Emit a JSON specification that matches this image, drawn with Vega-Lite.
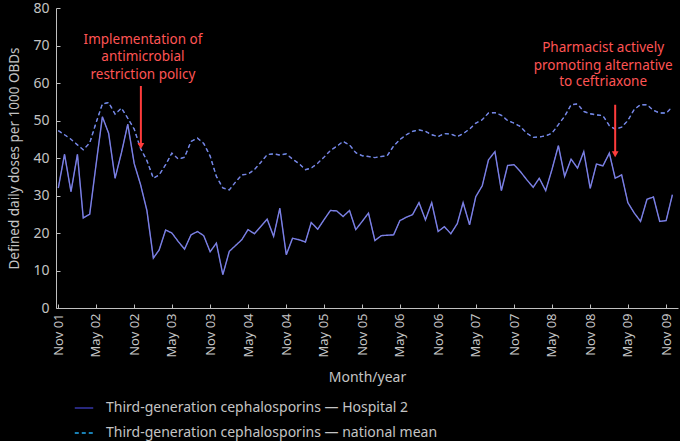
{
  "$schema": "https://vega.github.io/schema/vega-lite/v6.json",
  "width": 622,
  "height": 300,
  "autosize": {"type": "none"},
  "padding": {"left": 56, "top": 8, "right": 2, "bottom": 133},
  "background": "#000000",
  "config": {
    "view": {"stroke": null},
    "font": "Noto Sans",
    "axis": {"domainColor": "#c0c0c0", "tickColor": "#c0c0c0", "labelColor": "#c4c4c4", "titleColor": "#c4c4c4", "grid": false, "labelFont": "Noto Sans", "titleFont": "Noto Sans", "titleFontWeight": "normal", "labelOverlap": false}
  },
  "datasets": {
    "main": [
      {"month": "2001-11-01", "hospital2": 32, "national_mean": 47.3},
      {"month": "2001-12-01", "hospital2": 41, "national_mean": 46.2},
      {"month": "2002-01-01", "hospital2": 31, "national_mean": 45},
      {"month": "2002-02-01", "hospital2": 41, "national_mean": 43.5},
      {"month": "2002-03-01", "hospital2": 24, "national_mean": 42.2},
      {"month": "2002-04-01", "hospital2": 25, "national_mean": 44},
      {"month": "2002-05-01", "hospital2": 38, "national_mean": 49.3},
      {"month": "2002-06-01", "hospital2": 51, "national_mean": 54.4},
      {"month": "2002-07-01", "hospital2": 46.6, "national_mean": 54.8},
      {"month": "2002-08-01", "hospital2": 34.6, "national_mean": 51.7},
      {"month": "2002-09-01", "hospital2": 41.5, "national_mean": 53.3},
      {"month": "2002-10-01", "hospital2": 49, "national_mean": 50.6},
      {"month": "2002-11-01", "hospital2": 38.5, "national_mean": 47.7},
      {"month": "2002-12-01", "hospital2": 33, "national_mean": 42.6},
      {"month": "2003-01-01", "hospital2": 26, "national_mean": 39.3},
      {"month": "2003-02-01", "hospital2": 13.3, "national_mean": 34.6},
      {"month": "2003-03-01", "hospital2": 15.5, "national_mean": 35.5},
      {"month": "2003-04-01", "hospital2": 20.8, "national_mean": 38.2},
      {"month": "2003-05-01", "hospital2": 20, "national_mean": 41.3},
      {"month": "2003-06-01", "hospital2": 17.7, "national_mean": 39.7},
      {"month": "2003-07-01", "hospital2": 15.7, "national_mean": 40.2},
      {"month": "2003-08-01", "hospital2": 19.5, "national_mean": 44.4},
      {"month": "2003-09-01", "hospital2": 20.4, "national_mean": 45.3},
      {"month": "2003-10-01", "hospital2": 19.3, "national_mean": 43.9},
      {"month": "2003-11-01", "hospital2": 15, "national_mean": 40.5},
      {"month": "2003-12-01", "hospital2": 17.3, "national_mean": 35.1},
      {"month": "2004-01-01", "hospital2": 8.9, "national_mean": 32},
      {"month": "2004-02-01", "hospital2": 15.1, "national_mean": 31.5},
      {"month": "2004-03-01", "hospital2": 16.6, "national_mean": 33.5},
      {"month": "2004-04-01", "hospital2": 18.2, "national_mean": 35.5},
      {"month": "2004-05-01", "hospital2": 20.9, "national_mean": 35.7},
      {"month": "2004-06-01", "hospital2": 19.8, "national_mean": 36.9},
      {"month": "2004-07-01", "hospital2": 21.7, "national_mean": 38.8},
      {"month": "2004-08-01", "hospital2": 23.7, "national_mean": 40.9},
      {"month": "2004-09-01", "hospital2": 19.1, "national_mean": 41.1},
      {"month": "2004-10-01", "hospital2": 26.6, "national_mean": 40.8},
      {"month": "2004-11-01", "hospital2": 14.2, "national_mean": 41.1},
      {"month": "2004-12-01", "hospital2": 18.6, "national_mean": 39.7},
      {"month": "2005-01-01", "hospital2": 18.2, "national_mean": 38.5},
      {"month": "2005-02-01", "hospital2": 17.6, "national_mean": 36.9},
      {"month": "2005-03-01", "hospital2": 22.8, "national_mean": 37.3},
      {"month": "2005-04-01", "hospital2": 21, "national_mean": 38.6},
      {"month": "2005-05-01", "hospital2": 23.5, "national_mean": 40.2},
      {"month": "2005-06-01", "hospital2": 26, "national_mean": 42},
      {"month": "2005-07-01", "hospital2": 25.9, "national_mean": 43.1},
      {"month": "2005-08-01", "hospital2": 24.4, "national_mean": 44.4},
      {"month": "2005-09-01", "hospital2": 26, "national_mean": 43.5},
      {"month": "2005-10-01", "hospital2": 20.9, "national_mean": 41.4},
      {"month": "2005-11-01", "hospital2": 23.1, "national_mean": 40.6},
      {"month": "2005-12-01", "hospital2": 25.3, "national_mean": 40.4},
      {"month": "2006-01-01", "hospital2": 18, "national_mean": 40.1},
      {"month": "2006-02-01", "hospital2": 19.3, "national_mean": 40.4},
      {"month": "2006-03-01", "hospital2": 19.4, "national_mean": 40.6},
      {"month": "2006-04-01", "hospital2": 19.5, "national_mean": 43.2},
      {"month": "2006-05-01", "hospital2": 23.3, "national_mean": 44.9},
      {"month": "2006-06-01", "hospital2": 24.2, "national_mean": 46.2},
      {"month": "2006-07-01", "hospital2": 24.9, "national_mean": 47.1},
      {"month": "2006-08-01", "hospital2": 28.1, "national_mean": 47.5},
      {"month": "2006-09-01", "hospital2": 23.5, "national_mean": 47.1},
      {"month": "2006-10-01", "hospital2": 28.1, "national_mean": 46.2},
      {"month": "2006-11-01", "hospital2": 20.4, "national_mean": 45.7},
      {"month": "2006-12-01", "hospital2": 21.7, "national_mean": 46.5},
      {"month": "2007-01-01", "hospital2": 19.8, "national_mean": 46.4},
      {"month": "2007-02-01", "hospital2": 22.5, "national_mean": 45.7},
      {"month": "2007-03-01", "hospital2": 28.1, "national_mean": 46.5},
      {"month": "2007-04-01", "hospital2": 22.2, "national_mean": 47.7},
      {"month": "2007-05-01", "hospital2": 29.7, "national_mean": 49.3},
      {"month": "2007-06-01", "hospital2": 32.6, "national_mean": 50.2},
      {"month": "2007-07-01", "hospital2": 39.5, "national_mean": 52},
      {"month": "2007-08-01", "hospital2": 41.7, "national_mean": 52.1},
      {"month": "2007-09-01", "hospital2": 31.3, "national_mean": 51.4},
      {"month": "2007-10-01", "hospital2": 38, "national_mean": 50},
      {"month": "2007-11-01", "hospital2": 38.2, "national_mean": 49.3},
      {"month": "2007-12-01", "hospital2": 36.4, "national_mean": 48.4},
      {"month": "2008-01-01", "hospital2": 34.2, "national_mean": 46.6},
      {"month": "2008-02-01", "hospital2": 32.2, "national_mean": 45.5},
      {"month": "2008-03-01", "hospital2": 34.6, "national_mean": 45.6},
      {"month": "2008-04-01", "hospital2": 31.3, "national_mean": 45.9},
      {"month": "2008-05-01", "hospital2": 36.9, "national_mean": 46.6},
      {"month": "2008-06-01", "hospital2": 43.3, "national_mean": 48.9},
      {"month": "2008-07-01", "hospital2": 35.1, "national_mean": 51.1},
      {"month": "2008-08-01", "hospital2": 39.7, "national_mean": 54.2},
      {"month": "2008-09-01", "hospital2": 37.3, "national_mean": 54.4},
      {"month": "2008-10-01", "hospital2": 41.7, "national_mean": 52.4},
      {"month": "2008-11-01", "hospital2": 31.9, "national_mean": 51.8},
      {"month": "2008-12-01", "hospital2": 38.4, "national_mean": 51.5},
      {"month": "2009-01-01", "hospital2": 37.9, "national_mean": 51.3},
      {"month": "2009-02-01", "hospital2": 41.3, "national_mean": 48.6},
      {"month": "2009-03-01", "hospital2": 34.6, "national_mean": 47.7},
      {"month": "2009-04-01", "hospital2": 35.5, "national_mean": 48.2},
      {"month": "2009-05-01", "hospital2": 28.1, "national_mean": 50},
      {"month": "2009-06-01", "hospital2": 25.3, "national_mean": 53},
      {"month": "2009-07-01", "hospital2": 23.1, "national_mean": 54.2},
      {"month": "2009-08-01", "hospital2": 29, "national_mean": 54.2},
      {"month": "2009-09-01", "hospital2": 29.6, "national_mean": 52.7},
      {"month": "2009-10-01", "hospital2": 23.1, "national_mean": 52},
      {"month": "2009-11-01", "hospital2": 23.3, "national_mean": 52},
      {"month": "2009-12-01", "hospital2": 30.2, "national_mean": 53.6}
    ],
    "notes": [
      {"month": "2002-12-13", "value": 71.5, "text": "Implementation of"},
      {"month": "2002-12-13", "value": 66.9, "text": "antimicrobial"},
      {"month": "2002-12-13", "value": 62.2, "text": "restriction policy"},
      {"month": "2009-01-02", "value": 69.3, "text": "Pharmacist actively"},
      {"month": "2009-01-02", "value": 64.6, "text": "promoting  alternative"},
      {"month": "2009-01-02", "value": 60.2, "text": "to ceftriaxone"}
    ],
    "arrows": [
      {"month": "2002-12-03", "top": 59.2, "tip": 43.2},
      {"month": "2009-03-01", "top": 54.2, "tip": 41.0}
    ]
  },
  "encoding": {
    "x": {
      "field": "month",
      "type": "temporal",
      "scale": {"type": "utc", "domain": [{"year": 2001, "month": 10, "date": 21, "utc": true}, {"year": 2009, "month": 12, "date": 28, "utc": true}]},
      "axis": {
        "title": "Month/year",
        "titleFontSize": 14,
        "titlePadding": 14,
        "format": "%b %y",
        "labelAngle": -90,
        "labelFontSize": 13,
        "labelPadding": 9,
        "tickSize": -4,
        "labelOverlap": false,
        "values": [
          {"year": 2001, "month": 11, "date": 1, "utc": true},
          {"year": 2002, "month": 5, "date": 1, "utc": true},
          {"year": 2002, "month": 11, "date": 1, "utc": true},
          {"year": 2003, "month": 5, "date": 1, "utc": true},
          {"year": 2003, "month": 11, "date": 1, "utc": true},
          {"year": 2004, "month": 5, "date": 1, "utc": true},
          {"year": 2004, "month": 11, "date": 1, "utc": true},
          {"year": 2005, "month": 5, "date": 1, "utc": true},
          {"year": 2005, "month": 11, "date": 1, "utc": true},
          {"year": 2006, "month": 5, "date": 1, "utc": true},
          {"year": 2006, "month": 11, "date": 1, "utc": true},
          {"year": 2007, "month": 5, "date": 1, "utc": true},
          {"year": 2007, "month": 11, "date": 1, "utc": true},
          {"year": 2008, "month": 5, "date": 1, "utc": true},
          {"year": 2008, "month": 11, "date": 1, "utc": true},
          {"year": 2009, "month": 5, "date": 1, "utc": true},
          {"year": 2009, "month": 11, "date": 1, "utc": true}
        ]
      }
    },
    "y": {
      "field": "value",
      "type": "quantitative",
      "scale": {"domain": [0, 80], "nice": false},
      "axis": {"title": "Defined daily doses per 1000 OBDs", "titleFontSize": 13.5, "titlePadding": 11, "labelFontSize": 14, "labelPadding": 11, "tickSize": -4, "labelOverlap": false, "values": [0, 10, 20, 30, 40, 50, 60, 70, 80]}
    }
  },
  "layer": [
    {
      "data": {"name": "main"},
      "transform": [{"fold": ["hospital2", "national_mean"], "as": ["series", "value"]}],
      "mark": {"type": "line", "strokeWidth": 1},
      "encoding": {
        "color": {
          "field": "series",
          "type": "nominal",
          "scale": {"domain": ["hospital2", "national_mean"], "range": ["#3636a8", "#22aaf0"]},
          "legend": {
            "title": null,
            "orient": "none",
            "legendX": 18,
            "legendY": 390,
            "direction": "vertical",
            "labelColor": "#c4c4c4",
            "labelFontSize": 14,
            "labelFont": "Noto Sans",
            "labelLimit": 500,
            "labelOffset": 12,
            "rowPadding": 8,
            "symbolSize": 340,
            "symbolStrokeWidth": 1.3,
            "labelExpr": "datum.label == 'hospital2' ? 'Third-generation cephalosporins — Hospital 2' : 'Third-generation cephalosporins — national mean'"
          }
        },
        "strokeDash": {
          "field": "series",
          "type": "nominal",
          "scale": {"domain": ["hospital2", "national_mean"], "range": [[1, 0], [4, 3]]}
        }
      }
    },
    {
      "data": {"name": "main"},
      "transform": [{"fold": ["hospital2", "national_mean"], "as": ["series", "value"]}],
      "mark": {"type": "line", "color": "#7b80e0", "strokeWidth": 1.4},
      "encoding": {
        "strokeDash": {"field": "series", "type": "nominal"}
      }
    },
    {
      "data": {"name": "arrows"},
      "mark": {"type": "rule", "color": "#ff3c3c", "strokeWidth": 2},
      "encoding": {
        "y": {"field": "top", "type": "quantitative"},
        "y2": {"field": "tip"}
      }
    },
    {
      "data": {"name": "arrows"},
      "mark": {"type": "point", "shape": "triangle-down", "filled": true, "color": "#ff3c3c", "size": 45, "opacity": 1},
      "encoding": {
        "y": {"field": "tip", "type": "quantitative"}
      }
    },
    {
      "data": {"name": "notes"},
      "mark": {"type": "text", "color": "#ff5454", "fontSize": 13.5, "font": "Noto Sans", "align": "center", "baseline": "middle"},
      "encoding": {
        "text": {"field": "text"}
      }
    }
  ]
}
